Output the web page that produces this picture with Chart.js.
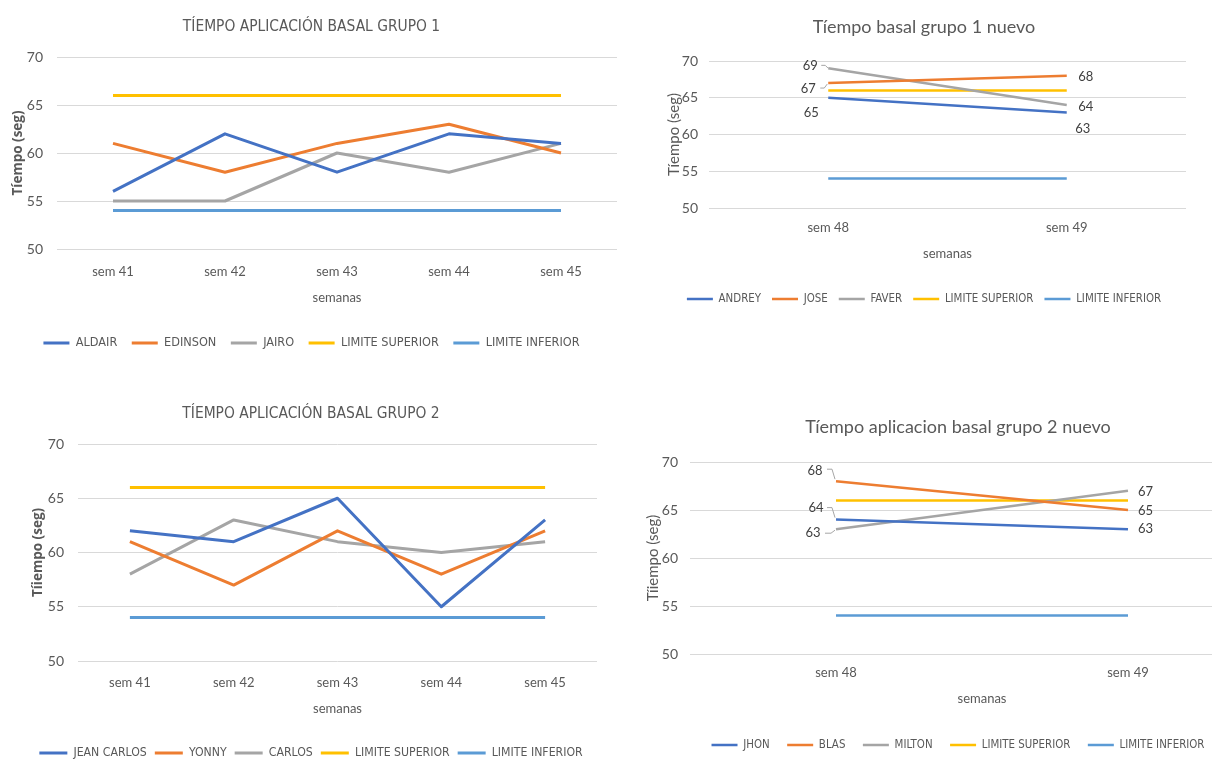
<!DOCTYPE html>
<html>
<head>
<meta charset="utf-8">
<title>Tíempo aplicación basal</title>
<script src="https://cdn.jsdelivr.net/npm/chart.js@4.4.1/dist/chart.umd.min.js"></script>
<style>
  html, body { margin: 0; padding: 0; background: #ffffff; overflow: hidden; }
  #page { position: relative; width: 1212px; height: 761px; overflow: hidden; background: #ffffff; }
  canvas { position: absolute; }
</style>
</head>
<body>
<div id="page">
  <canvas id="grupo1" width="625" height="363" style="left:0px;top:0px"></canvas>
  <canvas id="grupo1nuevo" width="566" height="319" style="left:640px;top:0px"></canvas>
  <canvas id="grupo2" width="605" height="381" style="left:0px;top:390px"></canvas>
  <canvas id="grupo2nuevo" width="640" height="365" style="left:640px;top:400px"></canvas>
</div>
<script>
// ---- datos ----
const semanasAnteriores = ['sem 41', 'sem 42', 'sem 43', 'sem 44', 'sem 45'];
const semanasNuevas = ['sem 48', 'sem 49'];
const ticksTiempo = [50, 55, 60, 65, 70];

// Grupo 1 (sem 41 - 45)
const aldair  = [56, 62, 58, 62, 61];
const edinson = [61, 58, 61, 63, 60];
const jairo   = [55, 55, 60, 58, 61];
const limiteSuperiorG1 = [66, 66, 66, 66, 66];
const limiteInferiorG1 = [54, 54, 54, 54, 54];

// Grupo 1 nuevo (sem 48 - 49)
const andrey = [65, 63];
const jose   = [67, 68];
const faver  = [69, 64];
const limiteSuperiorG1N = [66, 66];
const limiteInferiorG1N = [54, 54];

// Grupo 2 (sem 41 - 45)
const jeanCarlos = [62, 61, 65, 55, 63];
const yonny      = [61, 57, 62, 58, 62];
const carlos     = [58, 63, 61, 60, 61];
const limiteSuperiorG2 = [66, 66, 66, 66, 66];
const limiteInferiorG2 = [54, 54, 54, 54, 54];

// Grupo 2 nuevo (sem 48 - 49)
const jhon   = [64, 63];
const blas   = [68, 65];
const milton = [63, 67];
const limiteSuperiorG2N = [66, 66];
const limiteInferiorG2N = [54, 54];

// ---- estilo ----
const AZUL = '#4472C4', NARANJA = '#ED7D31', GRIS = '#A5A5A5', AMARILLO = '#FFC000', CELESTE = '#5B9BD5';
const TEXTO = '#595959';
const NARROW = "'DejaVu Sans Condensed', sans-serif";
const LATO = "Lato, 'Open Sans', sans-serif";
const OPEN = "'Open Sans', Lato, sans-serif";

// value tags next to points, with optional leader lines (offsets in px from the point)
const etiquetasPlugin = {
  id: 'etiquetas',
  afterDatasetsDraw(chart, args, opts) {
    const items = opts.items || [];
    const ctx = chart.ctx;
    ctx.save();
    items.forEach(t => {
      const pt = chart.getDatasetMeta(t.ds).data[t.i];
      const valor = chart.data.datasets[t.ds].data[t.i];
      if (t.leader) {
        ctx.beginPath();
        ctx.strokeStyle = '#A6A6A6';
        ctx.lineWidth = 1;
        t.leader.forEach(([dx, dy], k) => {
          if (k === 0) ctx.moveTo(pt.x + dx, pt.y + dy);
          else ctx.lineTo(pt.x + dx, pt.y + dy);
        });
        ctx.stroke();
      }
      ctx.fillStyle = '#404040';
      ctx.font = '13px ' + LATO;
      ctx.textAlign = 'center';
      ctx.textBaseline = 'middle';
      ctx.fillText(String(valor), pt.x + t.dx, pt.y + t.dy);
    });
    ctx.restore();
  }
};

function serie(nombre, datos, color, ancho) {
  return {
    label: nombre, data: datos,
    borderColor: color, backgroundColor: color,
    borderWidth: ancho, pointRadius: 0, pointHoverRadius: 0,
    tension: 0, fill: false, borderJoinStyle: 'round'
  };
}

function grafico(id, c) {
  return new Chart(document.getElementById(id), {
    type: 'line',
    data: {
      labels: c.labels,
      datasets: c.series.map(s => serie(s[0], s[1], s[2], c.lineW))
    },
    plugins: [etiquetasPlugin],
    options: {
      responsive: false,
      animation: false,
      events: [],
      layout: { padding: c.pad },
      plugins: {
        title: {
          display: true, text: c.title, color: TEXTO,
          font: { family: c.titleFamily, size: c.titleSize, weight: 'normal' },
          padding: c.titlePad
        },
        legend: {
          position: 'bottom',
          labels: {
            color: TEXTO, usePointStyle: true, pointStyle: 'line', pointStyleWidth: c.legLine,
            padding: c.legPad, font: { family: NARROW, size: c.legSize }
          }
        },
        tooltip: { enabled: false },
        etiquetas: { items: c.tags || [] }
      },
      scales: {
        x: {
          offset: true,
          grid: { display: false, drawTicks: false },
          border: { display: false },
          ticks: { color: TEXTO, padding: c.xTickPad, font: { family: LATO, size: 13 } },
          title: { display: true, text: 'semanas', color: TEXTO, font: { family: LATO, size: 13 }, padding: { top: 0, bottom: c.xTitlePad } },
          afterFit: s => { s.height = c.xH; }
        },
        y: {
          min: ticksTiempo[0], max: ticksTiempo[ticksTiempo.length - 1],
          grid: { color: '#D9D9D9', lineWidth: 1, drawTicks: false },
          border: { display: false },
          ticks: { stepSize: ticksTiempo[1] - ticksTiempo[0], color: TEXTO, padding: c.yTickPad, font: { family: LATO, size: 14 } },
          title: { display: true, text: c.yTitle, color: TEXTO, font: { family: c.yTitleFamily, size: c.yTitleSize, weight: c.yTitleWeight }, padding: { top: c.yTitlePad, bottom: 0 } },
          afterFit: s => { s.width = c.yW; }
        }
      }
    }
  });
}

grafico('grupo1', {
  title: 'TÍEMPO APLICACIÓN BASAL GRUPO 1', titleFamily: NARROW, titleSize: 15.4,
  titlePad: { top: 11.26, bottom: 21.26 },
  yTitle: 'Tíempo (seg)', yTitleFamily: OPEN, yTitleSize: 13.5, yTitleWeight: 'bold', yTitlePad: 3.9,
  pad: { top: 6, left: 6, right: 8, bottom: 3.7 }, yW: 51, xH: 73.2,
  yTickPad: 14, xTickPad: 15.2, xTitlePad: 16.4, lineW: 3,
  legSize: 12.6, legPad: 14.5, legLine: 26,
  labels: semanasAnteriores,
  series: [
    ['ALDAIR', aldair, AZUL], ['EDINSON', edinson, NARANJA], ['JAIRO', jairo, GRIS],
    ['LIMITE SUPERIOR', limiteSuperiorG1, AMARILLO], ['LIMITE INFERIOR', limiteInferiorG1, CELESTE]
  ]
});

grafico('grupo1nuevo', {
  title: 'Tíempo basal grupo 1 nuevo', titleFamily: LATO, titleSize: 18,
  titlePad: { top: 12.2, bottom: 23.2 },
  yTitle: 'Tíempo (seg)', yTitleFamily: LATO, yTitleSize: 15, yTitleWeight: 'normal', yTitlePad: 3,
  pad: { top: 4, left: 22, right: 20, bottom: 4.3 }, yW: 47, xH: 74.3,
  yTickPad: 11, xTickPad: 12.2, xTitlePad: 20.5, lineW: 2.5,
  legSize: 11.4, legPad: 11, legLine: 26,
  labels: semanasNuevas,
  series: [
    ['ANDREY', andrey, AZUL], ['JOSE', jose, NARANJA], ['FAVER', faver, GRIS],
    ['LIMITE SUPERIOR', limiteSuperiorG1N, AMARILLO], ['LIMITE INFERIOR', limiteInferiorG1N, CELESTE]
  ],
  tags: [
    { ds: 2, i: 0, dx: -18, dy: -2.7, leader: [[-7, -3], [-3, -3], [0, 0]] },
    { ds: 1, i: 0, dx: -20, dy: 5.3, leader: [[-8, 5], [-4, 5], [-1, 1]] },
    { ds: 0, i: 0, dx: -17, dy: 15 },
    { ds: 1, i: 1, dx: 19, dy: 1.3 },
    { ds: 2, i: 1, dx: 19, dy: 1.5 },
    { ds: 0, i: 1, dx: 16, dy: 16 }
  ]
});

grafico('grupo2', {
  title: 'TÍEMPO APLICACIÓN BASAL GRUPO 2', titleFamily: NARROW, titleSize: 15.4,
  titlePad: { top: 10.26, bottom: 21.26 },
  yTitle: 'Tíiempo (seg)', yTitleFamily: OPEN, yTitleSize: 13.5, yTitleWeight: 'bold', yTitlePad: 4.9,
  pad: { top: 4, left: 25, right: 8, bottom: 1.9 }, yW: 53, xH: 77.9,
  yTickPad: 14, xTickPad: 14.2, xTitlePad: 22.1, lineW: 3,
  legSize: 12.2, legPad: 8, legLine: 28,
  labels: semanasAnteriores,
  series: [
    ['JEAN CARLOS', jeanCarlos, AZUL], ['YONNY', yonny, NARANJA], ['CARLOS', carlos, GRIS],
    ['LIMITE SUPERIOR', limiteSuperiorG2, AMARILLO], ['LIMITE INFERIOR', limiteInferiorG2, CELESTE]
  ]
});

grafico('grupo2nuevo', {
  title: 'Tíempo aplicacion basal grupo 2 nuevo', titleFamily: LATO, titleSize: 18,
  titlePad: { top: 12.2, bottom: 24.2 },
  yTitle: 'Tíiempo (seg)', yTitleFamily: LATO, yTitleSize: 15, yTitleWeight: 'normal', yTitlePad: 2,
  pad: { top: 4, left: 2, right: 6, bottom: 4.3 }, yW: 48, xH: 67.8,
  yTickPad: 12, xTickPad: 11.2, xTitlePad: 15, lineW: 2.5,
  legSize: 11.4, legPad: 17.5, legLine: 26,
  labels: semanasNuevas,
  series: [
    ['JHON', jhon, AZUL], ['BLAS', blas, NARANJA], ['MILTON', milton, GRIS],
    ['LIMITE SUPERIOR', limiteSuperiorG2N, AMARILLO], ['LIMITE INFERIOR', limiteInferiorG2N, CELESTE]
  ],
  tags: [
    { ds: 1, i: 0, dx: -21, dy: -10.5, leader: [[-9, -12], [-4, -12], [-1, -2]] },
    { ds: 0, i: 0, dx: -20, dy: -12, leader: [[-9, -12], [-4, -12], [-1, -2]] },
    { ds: 2, i: 0, dx: -23, dy: 4, leader: [[-11, 4], [-5, 4], [-1, 1]] },
    { ds: 2, i: 1, dx: 17.5, dy: 1 },
    { ds: 1, i: 1, dx: 17.5, dy: 0.7 },
    { ds: 0, i: 1, dx: 17.5, dy: 0 }
  ]
});
</script>
</body>
</html>
